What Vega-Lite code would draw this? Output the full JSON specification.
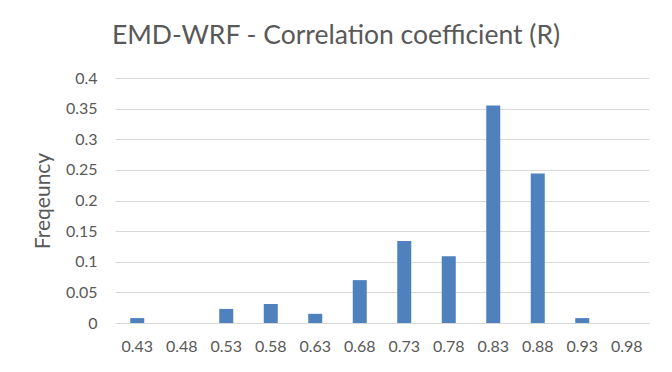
{
  "$schema": "https://vega.github.io/schema/vega-lite/v6.json",
  "width": 534,
  "height": 245,
  "autosize": "none",
  "padding": {"left": 115, "top": 78, "right": 23, "bottom": 49},
  "background": "white",
  "title": {
    "text": "EMD-WRF - Correlation coefficient (R)",
    "font": "Lato",
    "fontSize": 26.5,
    "fontWeight": "normal",
    "color": "#595959",
    "anchor": "middle",
    "baseline": "alphabetic",
    "offset": 0,
    "dx": -46
  },
  "data": {
    "values": [
      {"r": "0.43", "freq": 0.008},
      {"r": "0.48", "freq": 0},
      {"r": "0.53", "freq": 0.023},
      {"r": "0.58", "freq": 0.031},
      {"r": "0.63", "freq": 0.015},
      {"r": "0.68", "freq": 0.070},
      {"r": "0.73", "freq": 0.134},
      {"r": "0.78", "freq": 0.109},
      {"r": "0.83", "freq": 0.355},
      {"r": "0.88", "freq": 0.244},
      {"r": "0.93", "freq": 0.008},
      {"r": "0.98", "freq": 0}
    ]
  },
  "mark": {"type": "bar", "color": "#4f81bd"},
  "encoding": {
    "x": {
      "field": "r",
      "type": "ordinal",
      "sort": null,
      "scale": {"paddingInner": 0.685, "paddingOuter": 0.3425},
      "axis": {
        "title": null,
        "labelAngle": 0,
        "labelFont": "Lato",
        "labelFontSize": 16,
        "labelColor": "#595959",
        "labelPadding": 15,
        "ticks": false,
        "domainColor": "#d9d9d9",
        "domainWidth": 1
      }
    },
    "y": {
      "field": "freq",
      "type": "quantitative",
      "scale": {"domain": [0, 0.4], "nice": false},
      "axis": {
        "title": "Freqeuncy",
        "titleFont": "Lato",
        "titleFontSize": 21,
        "titleFontWeight": "normal",
        "titleColor": "#595959",
        "titlePadding": 12,
        "values": [0, 0.05, 0.1, 0.15, 0.2, 0.25, 0.3, 0.35, 0.4],
        "format": "~g",
        "labelFont": "Lato",
        "labelFontSize": 16,
        "labelColor": "#595959",
        "labelPadding": 18,
        "ticks": false,
        "domain": false,
        "gridColor": "#d9d9d9",
        "gridWidth": 1
      }
    }
  },
  "config": {"view": {"stroke": null}}
}
